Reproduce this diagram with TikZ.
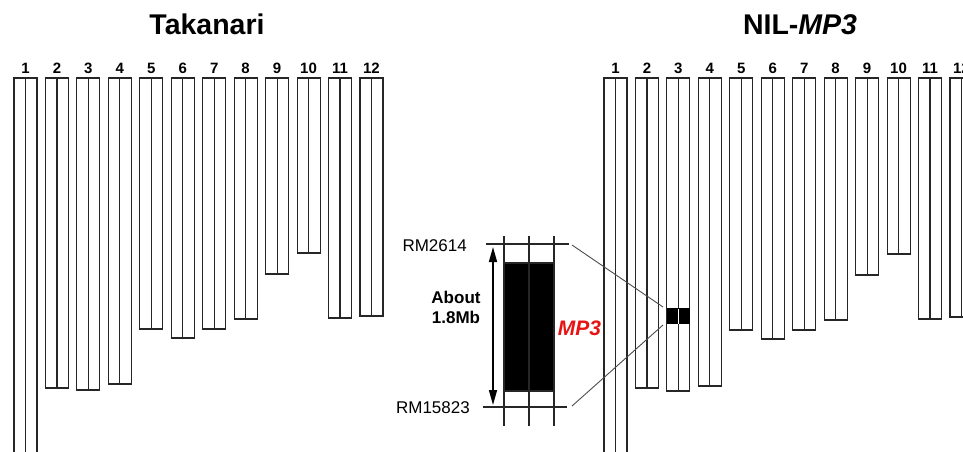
\documentclass[tikz,border=0pt]{standalone}
\usepackage{fontspec}
\setmainfont{Liberation Sans}
\usetikzlibrary{arrows.meta}
\definecolor{mpred}{RGB}{230,20,20}
\begin{document}
\begin{tikzpicture}[x=1pt,y=-1pt,
  chrom/.style={draw=black!85,line width=1.1pt,inner sep=0pt,outer sep=0pt,minimum width=23pt,anchor=north},
  cline/.style={draw=black!85,line width=1.1pt},
  num/.style={font=\fontsize{15}{15}\selectfont\bfseries,anchor=base,inner sep=0pt},
  title/.style={font=\fontsize{28.5}{30}\selectfont\bfseries,anchor=base,inner sep=0pt},
  marker/.style={font=\fontsize{17}{17}\selectfont,anchor=base east,inner sep=0pt},
  zoomline/.style={draw=black!70,line width=0.9pt}]
\useasboundingbox (0,0) rectangle (963,452);
\clip (0,0) rectangle (963,452);
% titles
\node[title] (tL) at (207,35) {Takanari};
\node[title] (tR) at (800,35) {NIL-\textit{MP3}};
% left chromosomes
\foreach \i/\b in {1/470,2/388,3/390,4/384,5/329,6/338,7/329,8/319,9/274,10/253,11/318,12/316}{
  \pgfmathsetmacro\h{\b-78}
  \pgfmathsetmacro\xc{25.5+31.45*(\i-1)}
  \node[chrom,minimum height=\h pt] (L\i) at (\xc,78) {};
  \draw[cline] (L\i.north) -- (L\i.south);
  \node[num] (nL\i) at (\xc,74) {\i};
}
% right chromosomes
\foreach \i/\b in {1/470,2/388,3/391,4/386,5/330,6/339,7/330,8/320,9/275,10/254,11/319,12/317}{
  \pgfmathsetmacro\h{\b-78}
  \pgfmathsetmacro\xc{615.5+31.45*(\i-1)}
  \node[chrom,minimum height=\h pt] (R\i) at (\xc,78) {};
  \draw[cline] (R\i.north) -- (R\i.south);
  \node[num] (nR\i) at (\xc,74) {\i};
}
% MP3 block on right chr3
\fill[black] (R3.west |- 0,308) rectangle (R3.east |- 0,324);
\draw[white,line width=1pt] (R3.north |- 0,308.5) -- (R3.north |- 0,323.5);
\coordinate (bTop) at (663,307);
\coordinate (bBot) at (663,325);
% zoomed segment
\coordinate (zL) at (504,0);
\coordinate (zM) at (529,0);
\coordinate (zR) at (554,0);
\fill[black] (504,263) rectangle (554,391);
\draw[white,line width=1pt] (529,264) -- (529,390);
\foreach \c in {zL,zM,zR}{
  \draw[cline] (\c |- 0,236) -- (\c |- 0,426);
}
\draw[cline] (504,263) -- (554,263);
\draw[cline] (504,391) -- (554,391);
\coordinate (m1a) at (486,244);
\coordinate (m1b) at (569,244);
\coordinate (m2a) at (483,407);
\coordinate (m2b) at (567,407);
\draw[cline] (m1a) -- (m1b);
\draw[cline] (m2a) -- (m2b);
\node[marker] (rm1) at (467,251) {RM2614};
\node[marker] (rm2) at (470,413) {RM15823};
% zoom connectors
\coordinate (zTop) at (572,245);
\coordinate (zBot) at (572,406);
\draw[zoomline] (zTop) -- (bTop);
\draw[zoomline] (zBot) -- (bBot);
% size arrow
\coordinate (aTop) at (493,247);
\coordinate (aBot) at (493,405);
\draw[line width=1.6pt,{Triangle[length=15pt,width=8pt]}-{Triangle[length=15pt,width=8pt]}] (aTop) -- (aBot);
\node[font=\fontsize{17}{20}\selectfont\bfseries,align=center,inner sep=0pt,anchor=base] (about) at (456,323) {About\\1.8Mb};
\node[font=\fontsize{21}{21}\selectfont\bfseries\itshape,text=mpred,anchor=base,inner sep=0pt] (mp3) at (579.5,335) {MP3};
\end{tikzpicture}
\end{document}
